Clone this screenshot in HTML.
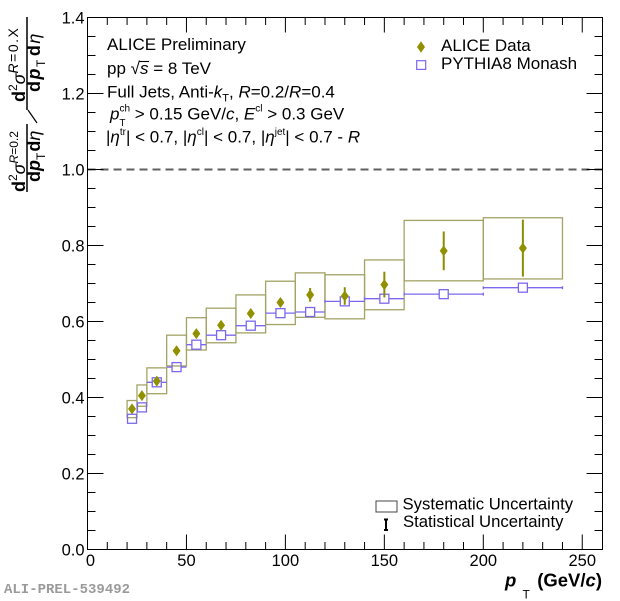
<!DOCTYPE html>
<html><head><meta charset="utf-8"><style>
html,body{margin:0;padding:0;background:#fff;}
svg{display:block;}
text{font-family:"Liberation Sans",sans-serif;fill:#000;}
</style></head><body>
<svg width="620" height="601" viewBox="0 0 620 601" xmlns="http://www.w3.org/2000/svg">
<rect width="620" height="601" fill="#fff"/>

<!-- systematic boxes -->
<g fill="none" stroke="#a3a366" stroke-width="1.3">
<rect x="127.08" y="400.54" width="9.9" height="17.1"/>
<rect x="136.98" y="384.96" width="9.89" height="21.28"/>
<rect x="146.87" y="367.86" width="19.79" height="25.84"/>
<rect x="166.66" y="335.18" width="19.79" height="30.78"/>
<rect x="186.45" y="317.7" width="19.79" height="32.3"/>
<rect x="206.24" y="308.2" width="29.69" height="34.58"/>
<rect x="235.93" y="294.9" width="29.68" height="38.0"/>
<rect x="265.61" y="281.22" width="29.69" height="43.32"/>
<rect x="295.30" y="272.86" width="29.68" height="44.46"/>
<rect x="324.98" y="274.76" width="39.58" height="44.08"/>
<rect x="364.56" y="259.94" width="39.58" height="49.78"/>
<rect x="404.14" y="220.42" width="79.16" height="60.42"/>
<rect x="483.30" y="217.76" width="79.16" height="61.18"/>
</g>

<!-- dashed line at 1.0 -->
<line x1="87.5" y1="169.5" x2="602.5" y2="169.5" stroke="#606060" stroke-width="2" stroke-dasharray="8 5"/>

<!-- PYTHIA -->
<g fill="none" stroke="#7b68ee" stroke-width="1.3">
<path d="M127.08 418.78H127.53M136.53 418.78H136.98
M136.98 407.38H137.42M146.42 407.38H146.87
M146.87 382.3H152.27M161.27 382.3H166.66
M166.66 367.1H172.06M181.06 367.1H186.45
M186.45 344.68H191.85M200.85 344.68H206.24
M206.24 335.18H216.58M225.58 335.18H235.93
M235.93 325.68H246.27M255.27 325.68H265.61
M265.61 313.14H275.95M284.95 313.14H295.3
M295.3 312H305.64M314.64 312H324.98
M324.98 301.36H340.27M349.27 301.36H364.56
M364.56 298.7H379.85M388.85 298.7H404.14
M404.14 294.14H439.22M448.22 294.14H483.3
M483.3 287.68H518.38M527.38 287.68H562.46
M404.14 292.6v3M483.3 292.6v3M483.3 286.2v3M562.46 286.2v3M364.56 297.2v3M324.98 299.9v3"/>
<rect x="127.53" y="414.28" width="9" height="9"/>
<rect x="137.42" y="402.88" width="9" height="9"/>
<rect x="152.27" y="377.8" width="9" height="9"/>
<rect x="172.06" y="362.6" width="9" height="9"/>
<rect x="191.85" y="340.18" width="9" height="9"/>
<rect x="216.58" y="330.68" width="9" height="9"/>
<rect x="246.27" y="321.18" width="9" height="9"/>
<rect x="275.95" y="308.64" width="9" height="9"/>
<rect x="305.64" y="307.5" width="9" height="9"/>
<rect x="340.27" y="296.86" width="9" height="9"/>
<rect x="379.85" y="294.2" width="9" height="9"/>
<rect x="439.22" y="289.64" width="9" height="9"/>
<rect x="518.38" y="283.18" width="9" height="9"/>
</g>

<!-- ALICE stat bars -->
<g stroke="#8c8c00" stroke-width="2" fill="none">
<path d="M250.77 309.3V317.7M280.45 298.3V306.7M310.14 288.06V301.74M344.77 287.3V304.78M384.35 271.72V297.56M443.72 231.44V270.2M522.88 219.66V276.66"/>
</g>
<!-- ALICE diamonds -->
<g fill="#909000">
<path d="M132.03 403.4l4 5.5l-4 5.5l-4 -5.5z"/>
<path d="M141.92 390.1l4 5.5l-4 5.5l-4 -5.5z"/>
<path d="M156.77 375.66l4 5.5l-4 5.5l-4 -5.5z"/>
<path d="M176.56 345.26l4 5.5l-4 5.5l-4 -5.5z"/>
<path d="M196.35 328.16l4 5.5l-4 5.5l-4 -5.5z"/>
<path d="M221.08 319.8l4 5.5l-4 5.5l-4 -5.5z"/>
<path d="M250.77 308.02l4 5.5l-4 5.5l-4 -5.5z"/>
<path d="M280.45 297l4 5.5l-4 5.5l-4 -5.5z"/>
<path d="M310.14 289.4l4 5.5l-4 5.5l-4 -5.5z"/>
<path d="M344.77 290.54l4 5.5l-4 5.5l-4 -5.5z"/>
<path d="M384.35 279.14l4 5.5l-4 5.5l-4 -5.5z"/>
<path d="M443.72 245.32l4 5.5l-4 5.5l-4 -5.5z"/>
<path d="M522.88 242.66l4 5.5l-4 5.5l-4 -5.5z"/>
</g>

<!-- frame & ticks -->
<g stroke="#000" stroke-width="1" fill="none">
<rect x="87.5" y="17.5" width="515" height="532"/>
<path d="M107.29 549.5v-7.5M127.08 549.5v-7.5M146.87 549.5v-7.5M166.66 549.5v-7.5M206.24 549.5v-7.5M226.03 549.5v-7.5M245.82 549.5v-7.5M265.61 549.5v-7.5M305.19 549.5v-7.5M324.98 549.5v-7.5M344.77 549.5v-7.5M364.56 549.5v-7.5M404.14 549.5v-7.5M423.93 549.5v-7.5M443.72 549.5v-7.5M463.51 549.5v-7.5M503.09 549.5v-7.5M522.88 549.5v-7.5M542.67 549.5v-7.5M562.46 549.5v-7.5
M186.45 549.5v-15M285.4 549.5v-15M384.35 549.5v-15M483.3 549.5v-15M582.25 549.5v-15
M107.29 17.5v7.5M127.08 17.5v7.5M146.87 17.5v7.5M166.66 17.5v7.5M206.24 17.5v7.5M226.03 17.5v7.5M245.82 17.5v7.5M265.61 17.5v7.5M305.19 17.5v7.5M324.98 17.5v7.5M344.77 17.5v7.5M364.56 17.5v7.5M404.14 17.5v7.5M423.93 17.5v7.5M443.72 17.5v7.5M463.51 17.5v7.5M503.09 17.5v7.5M522.88 17.5v7.5M542.67 17.5v7.5M562.46 17.5v7.5
M186.45 17.5v15M285.4 17.5v15M384.35 17.5v15M483.3 17.5v15M582.25 17.5v15
M87.5 530.5h8M87.5 511.5h8M87.5 492.5h8M87.5 454.5h8M87.5 435.5h8M87.5 416.5h8M87.5 378.5h8M87.5 359.5h8M87.5 340.5h8M87.5 302.5h8M87.5 283.5h8M87.5 264.5h8M87.5 226.5h8M87.5 207.5h8M87.5 188.5h8M87.5 150.5h8M87.5 131.5h8M87.5 112.5h8M87.5 74.5h8M87.5 55.5h8M87.5 36.5h8
M87.5 473.5h16M87.5 397.5h16M87.5 321.5h16M87.5 245.5h16M87.5 169.5h16M87.5 93.5h16
M602.5 530.5h-8M602.5 511.5h-8M602.5 492.5h-8M602.5 454.5h-8M602.5 435.5h-8M602.5 416.5h-8M602.5 378.5h-8M602.5 359.5h-8M602.5 340.5h-8M602.5 302.5h-8M602.5 283.5h-8M602.5 264.5h-8M602.5 226.5h-8M602.5 207.5h-8M602.5 188.5h-8M602.5 150.5h-8M602.5 131.5h-8M602.5 112.5h-8M602.5 74.5h-8M602.5 55.5h-8M602.5 36.5h-8
M602.5 473.5h-16M602.5 397.5h-16M602.5 321.5h-16M602.5 245.5h-16M602.5 169.5h-16M602.5 93.5h-16"/>
</g>

<!-- y tick labels -->
<g font-size="16.5" text-anchor="end">
<text x="84.5" y="23.3">1.4</text>
<text x="84.5" y="99.3">1.2</text>
<text x="84.5" y="175.3">1.0</text>
<text x="84.5" y="251.3">0.8</text>
<text x="84.5" y="327.3">0.6</text>
<text x="84.5" y="403.3">0.4</text>
<text x="84.5" y="479.3">0.2</text>
<text x="84.5" y="555.3">0.0</text>
</g>
<!-- x tick labels -->
<g font-size="16.5" text-anchor="middle">
<text x="90.5" y="566">0</text>
<text x="186.45" y="566">50</text>
<text x="285.4" y="566">100</text>
<text x="384.35" y="566">150</text>
<text x="483.3" y="566">200</text>
<text x="582.25" y="566">250</text>
</g>

<!-- x axis title -->
<text x="505" y="586.5" font-size="18.5" font-weight="bold" font-style="italic">p</text>
<text x="522.5" y="598.5" font-size="12">T</text>
<text x="602" y="586.5" font-size="18.5" font-weight="bold" text-anchor="end">(GeV/<tspan font-style="italic">c</tspan>)</text>

<!-- y axis title -->
<g transform="translate(0,200) rotate(-90)">
<text x="8" y="25" font-size="18"><tspan font-weight="bold">d</tspan><tspan font-size="12" dy="-8">2</tspan><tspan font-style="italic" dy="8">σ</tspan><tspan font-size="12" font-style="italic" dy="-7">R</tspan><tspan font-size="12">=0.2</tspan></text>
<line x1="8" y1="27" x2="76" y2="27" stroke="#000" stroke-width="1.5"/>
<text x="18" y="40" font-size="18"><tspan font-weight="bold">d</tspan><tspan font-weight="bold" font-style="italic">p</tspan><tspan font-size="12" dy="5">T</tspan><tspan font-weight="bold" dy="-5" dx="1">d</tspan><tspan font-style="italic">η</tspan></text>
<text x="98" y="25" font-size="18"><tspan font-weight="bold">d</tspan><tspan font-size="12" dy="-8">2</tspan><tspan font-style="italic" dy="8">σ</tspan><tspan font-size="14" font-style="italic" dy="-7" letter-spacing="1.5">R</tspan><tspan font-size="14" letter-spacing="1.5">=0.X</tspan></text>
<line x1="90" y1="27" x2="183" y2="27" stroke="#000" stroke-width="1.5"/>
<text x="108" y="40" font-size="18" letter-spacing="1.5"><tspan font-weight="bold">d</tspan><tspan font-weight="bold" font-style="italic">p</tspan><tspan font-size="12" dy="5">T</tspan><tspan font-weight="bold" dy="-5" dx="2">d</tspan><tspan font-style="italic">η</tspan></text>
</g>
<line x1="37" y1="123" x2="28" y2="110" stroke="#000" stroke-width="1.2"/>

<!-- info text -->
<g font-size="17">
<text x="107" y="50">ALICE Preliminary</text>
<text x="107" y="74">pp √<tspan font-style="italic">s</tspan> = 8 TeV</text>
<line x1="139.5" y1="61.5" x2="149" y2="61.5" stroke="#000" stroke-width="1.1"/>
<text x="107" y="97.5">Full Jets, Anti-<tspan font-style="italic">k</tspan><tspan font-size="11" dy="4">T</tspan><tspan dy="-4">, </tspan><tspan font-style="italic">R</tspan>=0.2/<tspan font-style="italic">R</tspan>=0.4</text>
<text x="110" y="119.5"><tspan font-style="italic">p</tspan><tspan font-size="10" dy="-8">ch</tspan><tspan font-size="10" dx="-10.6" dy="14.5">T</tspan><tspan dx="4.5" dy="-6.5"> &gt; 0.15 GeV/</tspan><tspan font-style="italic">c</tspan><tspan>, </tspan><tspan font-style="italic">E</tspan><tspan font-size="10" dy="-8">cl</tspan><tspan dy="8"> &gt; 0.3 GeV</tspan></text>
<text x="106" y="142.5">|<tspan font-style="italic">η</tspan><tspan font-size="10" dy="-7.5">tr</tspan><tspan dy="7.5">| &lt; 0.7, |</tspan><tspan font-style="italic">η</tspan><tspan font-size="10" dy="-7.5">cl</tspan><tspan dy="7.5">| &lt; 0.7, |</tspan><tspan font-style="italic">η</tspan><tspan font-size="10" dy="-7.5">jet</tspan><tspan dy="7.5">| &lt; 0.7 - </tspan><tspan font-style="italic">R</tspan></text>
</g>

<!-- top legend -->
<path d="M421 41.3l4 5.7l-4 5.7l-4 -5.7z" fill="#909000"/>
<rect x="416.7" y="60.7" width="9" height="8.7" fill="none" stroke="#7b68ee" stroke-width="1.2"/>
<text x="441" y="51" font-size="17">ALICE Data</text>
<text x="441" y="69" font-size="17">PYTHIA8 Monash</text>

<!-- bottom legend -->
<rect x="376" y="501" width="21" height="11" fill="none" stroke="#444" stroke-width="1"/>
<path d="M386 519.5V530M384 519.5h4M384 530h4" stroke="#000" stroke-width="2" fill="none"/>
<text x="402.5" y="509.5" font-size="16.7">Systematic Uncertainty</text>
<text x="403" y="527" font-size="16.7">Statistical Uncertainty</text>

<text x="4" y="593" font-size="14" font-weight="bold" style="font-family:'Liberation Mono','DejaVu Sans Mono',monospace;fill:#9a9a9a">ALI-PREL-539492</text>
</svg>
</body></html>
